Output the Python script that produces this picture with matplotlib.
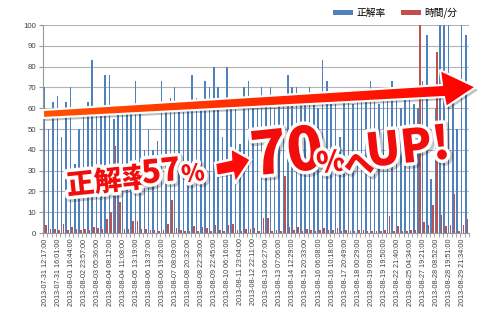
import numpy as np
import matplotlib
matplotlib.use("Agg")
import matplotlib.pyplot as plt
import matplotlib.patheffects as pe
from matplotlib.patches import Polygon
from matplotlib.colors import LinearSegmentedColormap

plt.rcParams['font.family'] = ['Noto Sans CJK JP', 'DejaVu Sans']

# 正解率 (%) per session (hidden ones estimated)
accuracy = [70, 50, 63, 66, 46, 63, 70, 33, 50, 60,
            63, 83, 58, 60, 76, 76, 55, 60, 57, 62,
            58, 73, 60, 40, 50, 40, 44, 73, 60, 65,
            70, 62, 58, 64, 76, 65, 62, 73, 70, 80,
            70, 46, 80, 60, 64, 43, 70, 73, 62, 66,
            70, 64, 70, 60, 66, 62, 76, 70, 70, 66,
            64, 70, 66, 60, 83, 73, 64, 68, 46, 66,
            68, 62, 66, 68, 64, 73, 66, 62, 68, 64,
            73, 66, 60, 66, 64, 62, 60, 73, 95, 26,
            60, 100, 100, 100, 70, 50, 100, 95]

# 時間/分 per session
minutes = [4, 2, 2, 1.5, 4.5, 1.5, 3, 2, 1.5, 2,
           1.5, 3, 2.5, 2, 6.5, 10, 42, 15, 2, 2,
           6, 6, 2, 2, 1.5, 1.5, 1, 1.5, 4.3, 16,
           2.2, 1.5, 1, 1, 3.4, 1, 3, 2.2, 1, 4,
           1.5, 0.8, 4, 4.5, 1.5, 1, 2, 2, 2.2, 1,
           7, 7, 0.8, 1.5, 1, 27.4, 3, 1.5, 2.8, 1,
           2, 1.5, 1, 1.5, 2.2, 1.5, 1.5, 2.5, 1, 1.5,
           0.8, 1, 1.5, 1.5, 0.8, 1, 1, 1, 1.5, 8.2,
           1, 3.4, 1, 0.8, 1.5, 1.5, 100, 5.3, 4, 13.5,
           87, 8.7, 3.4, 4, 18.7, 1, 4, 6.7]

# every third session is labelled
tick_labels = ['2013-07-31 12:17:00', '2013-07-31 16:01:00', '2013-08-01 16:44:00',
               '2013-08-02 23:57:00', '2013-08-03 05:36:00', '2013-08-04 08:12:00',
               '2013-08-04 11:08:00', '2013-08-05 13:19:00', '2013-08-06 13:37:00',
               '2013-08-06 19:26:00', '2013-08-07 08:09:00', '2013-08-08 20:32:00',
               '2013-08-08 22:30:00', '2013-08-09 22:45:00', '2013-08-10 06:16:00',
               '2013-08-11 23:04:00', '2013-08-12 22:11:00', '2013-08-13 06:27:00',
               '2013-08-13 07:06:00', '2013-08-14 12:29:00', '2013-08-15 20:33:00',
               '2013-08-16 06:08:00', '2013-08-16 10:18:00', '2013-08-17 20:49:00',
               '2013-08-18 00:29:00', '2013-08-19 09:03:00', '2013-08-19 19:50:00',
               '2013-08-22 21:40:00', '2013-08-25 04:34:00', '2013-08-27 19:21:00',
               '2013-08-28 08:52:00', '2013-08-28 19:51:00', '2013-08-29 21:34:00']

W, H = 483, 317
n = len(accuracy)
x = np.arange(n)

fig = plt.figure(figsize=(W / 100, H / 100), dpi=100)
ax = fig.add_axes([43 / W, 84 / H, 426 / W, 208 / H])

ax.bar(x - 0.2, accuracy, width=0.36, color='#4f81bd', label='正解率', zorder=2)
ax.bar(x + 0.2, minutes, width=0.36, color='#c0504d', label='時間/分', zorder=2)

ax.set_xlim(-0.5, n - 0.5)
ax.set_ylim(0, 100)
ax.set_yticks(range(0, 101, 10))
ax.yaxis.grid(True, color='#b3b3b3', lw=0.8)
ax.set_axisbelow(True)

ax.set_xticks(x[::3])
ax.set_xticklabels(tick_labels, rotation=90, fontsize=5.2,
                   family='Liberation Sans', color='#404040')
ax.set_xticks(np.arange(n + 1) - 0.5, minor=True)
ax.tick_params(axis='x', which='major', length=0, pad=4)
ax.tick_params(axis='x', which='minor', length=3, color='#999999')
ax.tick_params(axis='y', length=3, color='#999999', labelsize=5.6,
               labelcolor='#404040', pad=2)
for lab in ax.get_yticklabels():
    lab.set_family('Liberation Sans')
for s in ['top', 'right']:
    ax.spines[s].set_visible(False)
for s in ['left', 'bottom']:
    ax.spines[s].set_color('#999999')

fig.legend(loc='center', bbox_to_anchor=(395 / W, 1 - 13 / H), ncol=2,
           frameon=False, fontsize=7, handlelength=2.1, handleheight=0.45,
           columnspacing=1.6, handletextpad=0.3)

# overlay in pixel coordinates
ov = fig.add_axes([0, 0, 1, 1])
ov.patch.set_alpha(0)
ov.axis('off')

arrow_pts = [(43, 110), (442, 85), (440, 70), (476, 87), (446, 107), (444, 97), (43, 118)]
shadow = Polygon([(px + 2, py + 3) for px, py in arrow_pts], closed=True,
                 facecolor=(0, 0, 0, 0.25), edgecolor='none')
ov.add_patch(shadow)
arrow = Polygon(arrow_pts, closed=True, facecolor='none', edgecolor='white', lw=1.5, zorder=3)
ov.add_patch(arrow)
cmap = LinearSegmentedColormap.from_list('arr', ['#ff5200', '#ff2a00', '#ff0000'])
grad = ov.imshow(np.linspace(0, 1, 256)[None, :], cmap=cmap, aspect='auto',
                 extent=(43, 476, 120, 68), zorder=2)
grad.set_clip_path(arrow)

small_pts = [(215, 163), (231, 159.5), (230.5, 148), (251, 159.5), (235, 183.5),
             (233, 173), (216.5, 176)]
ov.add_patch(Polygon([(px + 1.5, py + 2) for px, py in small_pts], closed=True,
                     facecolor=(0, 0, 0, 0.25), edgecolor='none', zorder=4))
ov.add_patch(Polygon(small_pts, closed=True, facecolor='#ff0a0a',
                     edgecolor='white', lw=1.8, zorder=5))

fx = [pe.Stroke(linewidth=6, foreground=(0, 0, 0, 0.22), offset=(1.5, -1.5)),
      pe.Stroke(linewidth=5, foreground='white'), pe.Normal()]
red = '#f20d0d'
words = [('正解率', 108, 182, 20), ('57', 161, 172, 23), ('%', 193, 174, 17),
         ('70', 287, 154, 43), ('%', 331, 163, 21), ('へ', 359, 165, 22),
         ('UP!', 408, 149, 33)]
for txt, tx, ty, fs in words:
    ov.text(tx, ty, txt, fontsize=fs, color=red, weight='black', rotation=6,
            ha='center', va='center', path_effects=fx, zorder=6)

ov.set_xlim(0, W)
ov.set_ylim(H, 0)

fig.savefig('out.png', dpi=100)
